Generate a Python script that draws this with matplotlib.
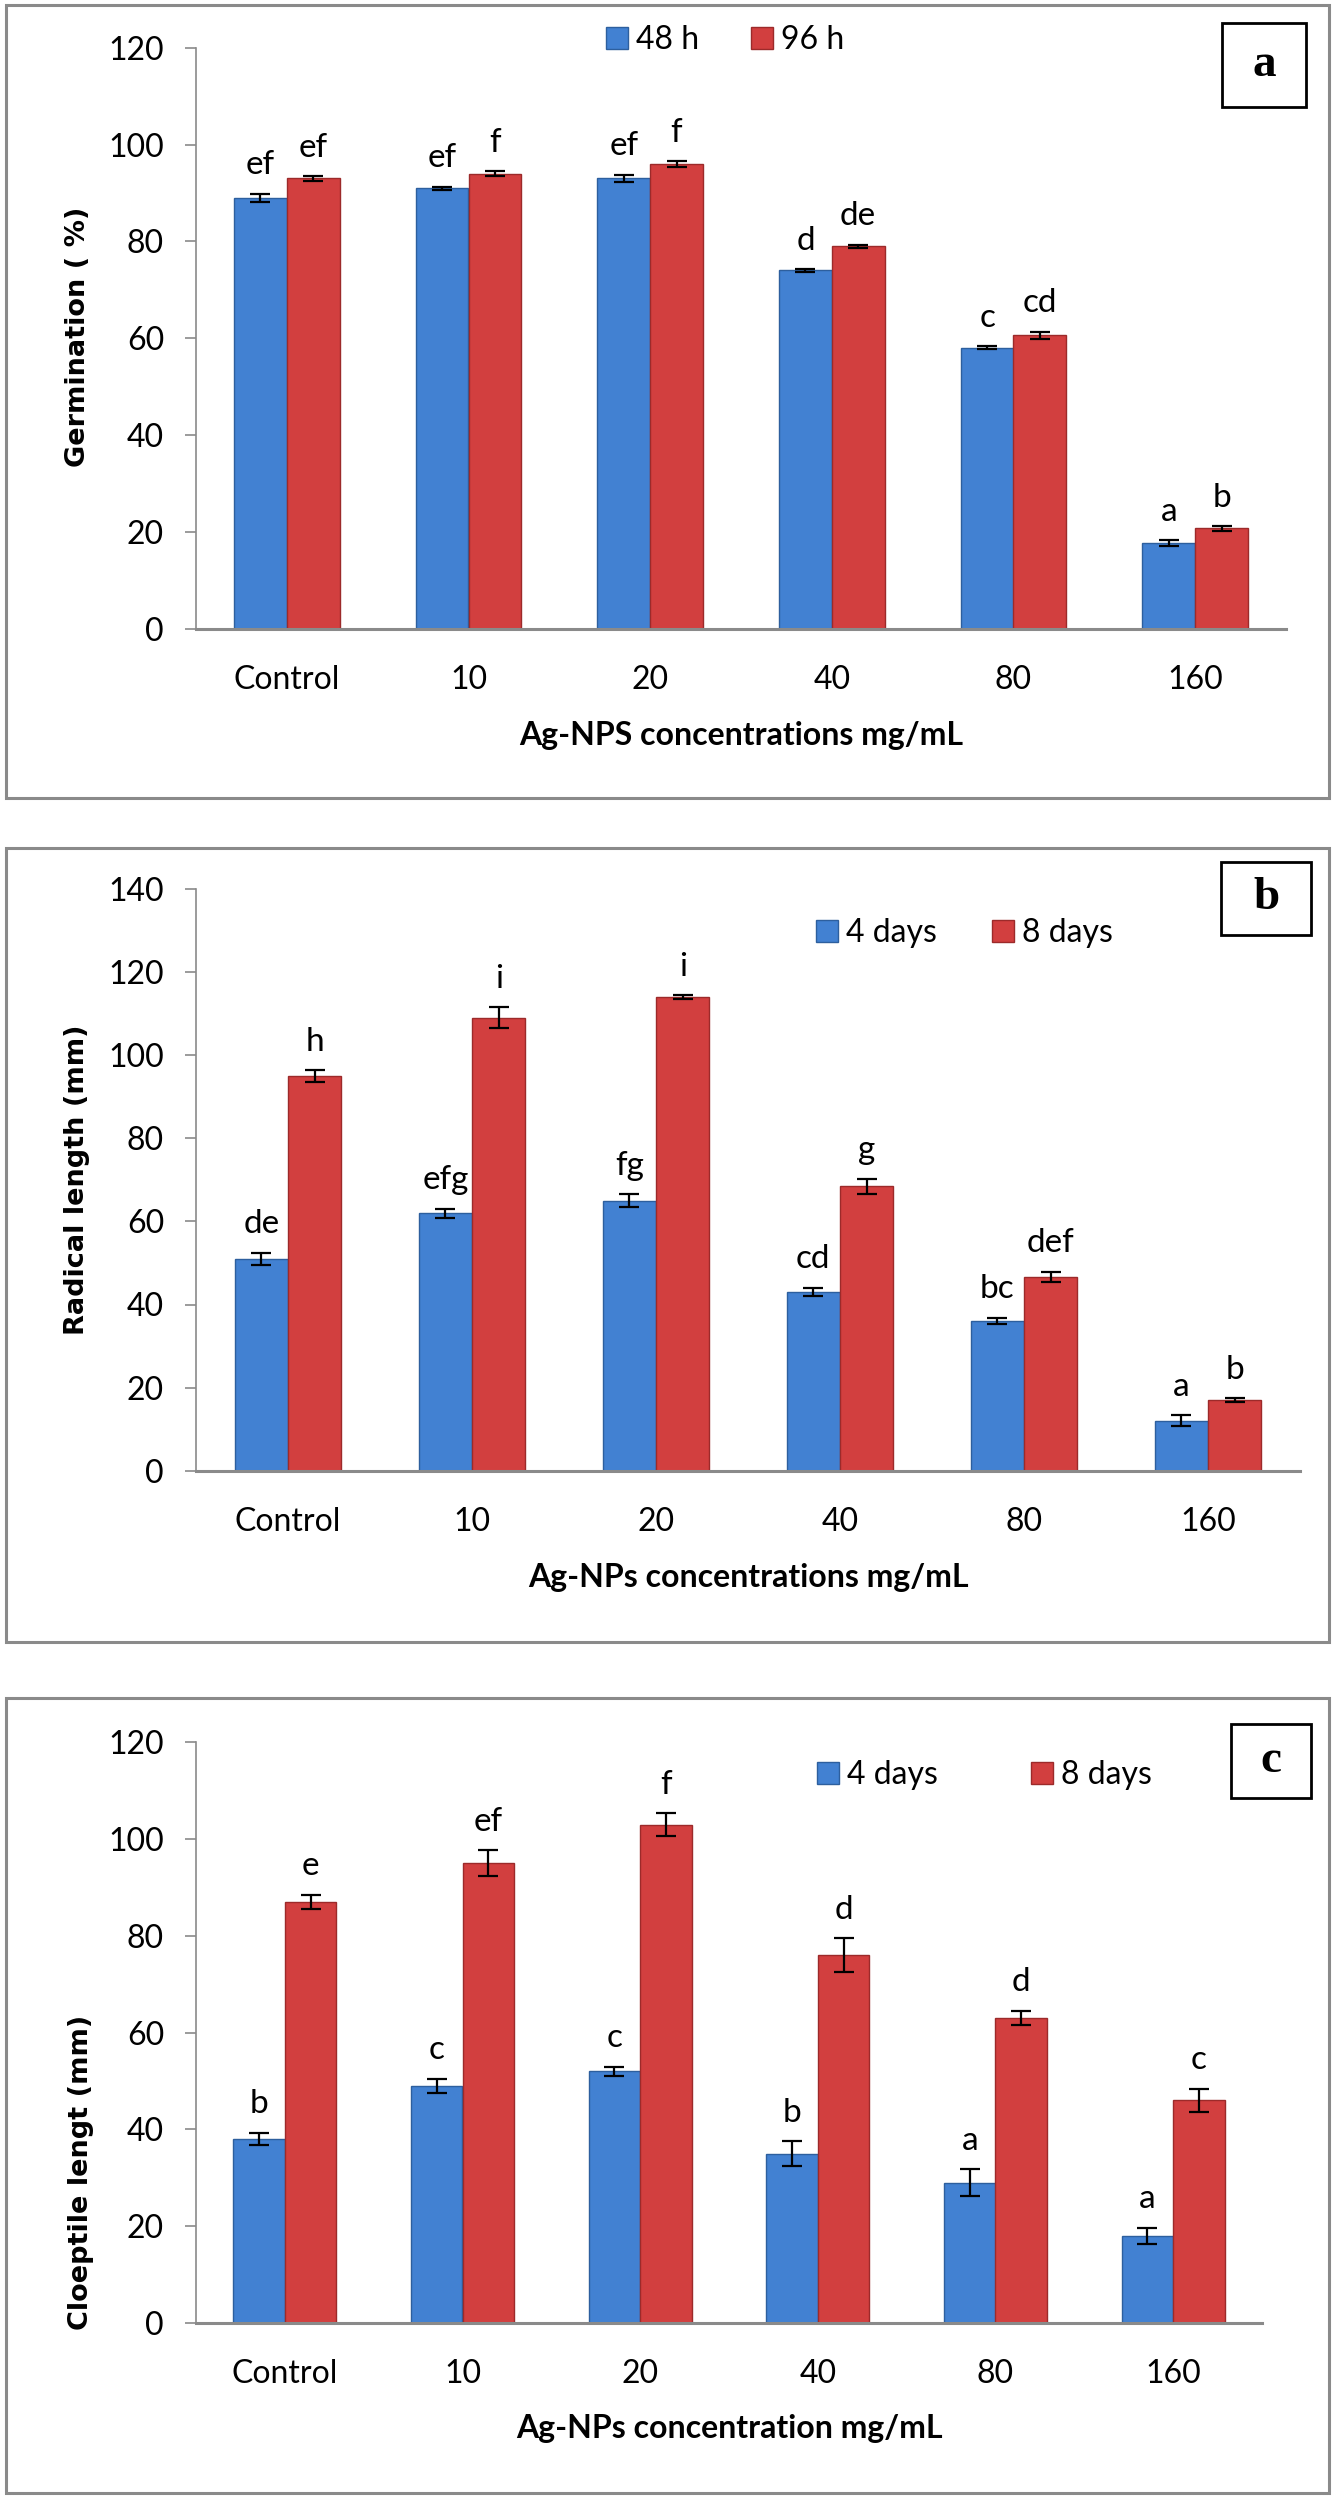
import matplotlib as mpl
import matplotlib.pyplot as plt
import numpy as np

plt.rcParams['font.family'] = ['Lato', 'DejaVu Sans']

categories = ['Control', '10', '20', '40', '80', '160']

# panel a - germination
germ_48 = [89, 91, 93, 74, 58, 17.7]
germ_48_err = [0.8, 0.3, 0.8, 0.3, 0.3, 0.6]
germ_96 = [93, 94, 96, 79, 60.6, 20.7]
germ_96_err = [0.5, 0.5, 0.6, 0.3, 0.7, 0.5]
germ_48_letters = ['ef', 'ef', 'ef', 'd', 'c', 'a']
germ_96_letters = ['ef', 'f', 'f', 'de', 'cd', 'b']

# panel b - radical length
rad_4 = [51, 62, 65, 43, 36, 12]
rad_4_err = [1.5, 1.1, 1.5, 1.0, 0.8, 1.3]
rad_8 = [95, 109, 114, 68.5, 46.7, 17]
rad_8_err = [1.4, 2.5, 0.5, 1.8, 1.2, 0.5]
rad_4_letters = ['de', 'efg', 'fg', 'cd', 'bc', 'a']
rad_8_letters = ['h', 'i', 'i', 'g', 'def', 'b']

# panel c - coleoptile length
cleo_4 = [38, 49, 52, 35, 29, 18]
cleo_4_err = [1.3, 1.5, 1.0, 2.6, 2.8, 1.7]
cleo_8 = [87, 95, 103, 76, 63, 46]
cleo_8_err = [1.5, 2.7, 2.3, 3.5, 1.5, 2.4]
cleo_4_letters = ['b', 'c', 'c', 'b', 'a', 'a']
cleo_8_letters = ['e', 'ef', 'f', 'd', 'd', 'c']

BLUE = '#4281d2'
BLUE_EDGE = '#2d5f9e'
RED = '#d23f3f'
RED_EDGE = '#9c2a2a'
GRAY = '#8a8a8a'

W, H = 1335, 2500
figure = plt.figure(figsize=(W / 100, H / 100), dpi=100)


def fx(px):
    return px / W


def fy(py):
    return 1 - py / H


def panel_box(top, bottom):
    figure.patches.append(mpl.patches.Rectangle(
        (fx(6), fy(bottom)), fx(1329) - fx(6), fy(top) - fy(bottom),
        transform=figure.transFigure, fill=False, edgecolor=GRAY, linewidth=2.2))


def tag_box(x0, y0, x1, y1, letter):
    figure.patches.append(mpl.patches.Rectangle(
        (fx(x0), fy(y1)), fx(x1) - fx(x0), fy(y0) - fy(y1),
        transform=figure.transFigure, fill=False, edgecolor='black', linewidth=2))
    figure.text(fx((x0 + x1) / 2), fy((y0 + y1) / 2), letter, ha='center', va='center',
                fontsize=34, fontweight='bold', family='Liberation Serif')


def draw_panel(rect, ymax, s1, e1, l1, s2, e2, l2, names, ylabel, ylab_y, xlabel,
               xlab_y, leg_xy, colspace):
    ax = figure.add_axes(rect)
    x = np.arange(len(categories))
    w = 0.29
    ekw = dict(ecolor='black', elinewidth=1.6, capthick=1.6, capsize=7)
    b1 = ax.bar(x - w / 2, s1, w, yerr=e1, color=BLUE, edgecolor=BLUE_EDGE,
                linewidth=1, error_kw=ekw, label=names[0], zorder=2)
    b2 = ax.bar(x + w / 2, s2, w, yerr=e2, color=RED, edgecolor=RED_EDGE,
                linewidth=1, error_kw=ekw, label=names[1], zorder=2)
    for xi, v, e, t in zip(x - w / 2, s1, e1, l1):
        ax.annotate(t, (xi, v + e), xytext=(0, 14), textcoords='offset points',
                    ha='center', va='baseline', fontsize=24)
    for xi, v, e, t in zip(x + w / 2, s2, e2, l2):
        ax.annotate(t, (xi, v + e), xytext=(0, 14), textcoords='offset points',
                    ha='center', va='baseline', fontsize=24)

    ax.set_xlim(-0.5, len(categories) - 0.5)
    ax.set_ylim(0, ymax)
    ax.set_yticks(np.arange(0, ymax + 1, 20))
    ax.set_xticks(x)
    ax.set_xticklabels(categories)
    ax.spines['top'].set_visible(False)
    ax.spines['right'].set_visible(False)
    ax.spines['left'].set_color(GRAY)
    ax.spines['left'].set_linewidth(1.2)
    ax.spines['bottom'].set_color(GRAY)
    ax.spines['bottom'].set_linewidth(2.2)
    ax.spines['bottom'].set_zorder(3)
    ax.tick_params(axis='y', length=8, width=1.2, color=GRAY, pad=15, labelsize=23)
    ax.tick_params(axis='x', length=0, pad=26, labelsize=23)

    ax.set_ylabel(ylabel, fontsize=19.5, fontweight='bold', family='DejaVu Sans',
                  va='center')
    ax.yaxis.set_label_coords(-0.108, ylab_y)
    ax.set_xlabel(xlabel, fontsize=23, fontweight='bold', va='center')
    ax.xaxis.set_label_coords(0.5, xlab_y)

    ax.legend(handles=[b1, b2], loc='center left', bbox_to_anchor=leg_xy,
              bbox_transform=figure.transFigure, ncol=2, frameon=False,
              fontsize=23, borderpad=0, borderaxespad=0, handlelength=0.7,
              handleheight=0.7, handletextpad=0.25, columnspacing=colspace)
    return ax


# a
panel_box(5, 798)
draw_panel([fx(196), fy(628.7), fx(1286) - fx(196), fy(47.7) - fy(628.7)], 120,
           germ_48, germ_48_err, germ_48_letters,
           germ_96, germ_96_err, germ_96_letters,
           ['48 h', '96 h'], 'Germination ( %)', 0.502,
           'Ag-NPS concentrations mg/mL', -0.183, (fx(606), fy(40)), 1.6)
tag_box(1222, 23, 1306, 107, 'a')

# b
panel_box(848, 1642)
draw_panel([fx(196), fy(1470.7), fx(1300) - fx(196), fy(889) - fy(1470.7)], 140,
           rad_4, rad_4_err, rad_4_letters,
           rad_8, rad_8_err, rad_8_letters,
           ['4 days', '8 days'], 'Radical length (mm)', 0.50,
           'Ag-NPs concentrations mg/mL', -0.184, (fx(816), fy(933)), 1.7)
tag_box(1221, 862, 1311, 935, 'b')

# c
panel_box(1698, 2493)
draw_panel([fx(196), fy(2323), fx(1262) - fx(196), fy(1742.3) - fy(2323)], 120,
           cleo_4, cleo_4_err, cleo_4_letters,
           cleo_8, cleo_8_err, cleo_8_letters,
           ['4 days', '8 days'], 'Cloeptile lengt (mm)', 0.26,
           'Ag-NPs concentration mg/mL', -0.181, (fx(817), fy(1775)), 2.9)
tag_box(1231, 1724, 1311, 1798, 'c')

figure.savefig('out.png', dpi=100)
